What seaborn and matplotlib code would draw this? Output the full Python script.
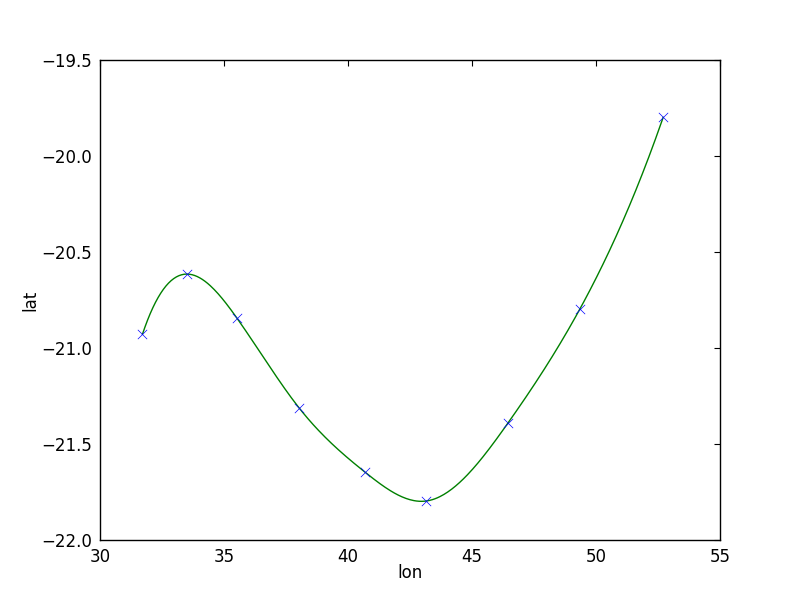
import numpy as np
import pandas as pd
import matplotlib
matplotlib.use("Agg")
import matplotlib.pyplot as plt
import seaborn as sns

# track points
lon = [31.71, 33.52, 35.52, 38.04, 40.69, 43.15, 46.46, 49.35, 52.71]
lat = [-20.929, -20.615, -20.844, -21.314, -21.647, -21.797, -21.389, -20.797, -19.798]


def cubic_spline(x, y, xs):
    # not-a-knot cubic spline through the points (like interp1d kind='cubic')
    x = np.asarray(x, float)
    y = np.asarray(y, float)
    n = len(x)
    h = np.diff(x)
    A = np.zeros((n, n))
    b = np.zeros(n)
    A[0, 0], A[0, 1], A[0, 2] = h[1], -(h[0] + h[1]), h[0]
    A[-1, -3], A[-1, -2], A[-1, -1] = h[-1], -(h[-2] + h[-1]), h[-2]
    for i in range(1, n - 1):
        A[i, i - 1] = h[i - 1]
        A[i, i] = 2 * (h[i - 1] + h[i])
        A[i, i + 1] = h[i]
        b[i] = 6 * ((y[i + 1] - y[i]) / h[i] - (y[i] - y[i - 1]) / h[i - 1])
    M = np.linalg.solve(A, b)
    idx = np.clip(np.searchsorted(x, xs) - 1, 0, n - 2)
    x0, x1 = x[idx], x[idx + 1]
    hh = x1 - x0
    t0, t1 = x1 - xs, xs - x0
    return (M[idx] * t0 ** 3 / (6 * hh) + M[idx + 1] * t1 ** 3 / (6 * hh)
            + (y[idx] / hh - M[idx] * hh / 6) * t0
            + (y[idx + 1] / hh - M[idx + 1] * hh / 6) * t1)


pts = pd.DataFrame({"lon": lon, "lat": lat})
xs = np.linspace(min(lon), max(lon), 400)
curve = pd.DataFrame({"lon": xs, "lat": cubic_spline(lon, lat, xs)})

sns.set_style("white")
plt.rcParams["font.family"] = ["DejaVu Sans"]
plt.rcParams["font.size"] = 12
plt.rcParams["xtick.direction"] = "in"
plt.rcParams["ytick.direction"] = "in"
plt.rcParams["xtick.top"] = True
plt.rcParams["ytick.right"] = True
plt.rcParams["xtick.major.size"] = 4
plt.rcParams["ytick.major.size"] = 4
plt.rcParams["xtick.major.pad"] = 6
plt.rcParams["ytick.major.pad"] = 6

fig, ax = plt.subplots(figsize=(8, 6), dpi=100)
fig.subplots_adjust(left=0.125, right=0.9, bottom=0.1, top=0.9)

sns.lineplot(data=curve, x="lon", y="lat", color="green", linewidth=1.0,
             sort=False, estimator=None, ax=ax)
sns.scatterplot(data=pts, x="lon", y="lat", marker="x", color="blue",
                s=45, linewidth=0.5, ax=ax, zorder=3)

ax.set_xlim(30, 55)
ax.set_ylim(-22.0, -19.5)
ax.set_xticks([30, 35, 40, 45, 50, 55])
ax.set_yticks([-22.0, -21.5, -21.0, -20.5, -20.0, -19.5])
ax.set_yticklabels(["\u221222.0", "\u221221.5", "\u221221.0", "\u221220.5", "\u221220.0", "\u221219.5"])
ax.set_xlabel("lon", fontsize=12, color="black", labelpad=-2)
ax.set_ylabel("lat", fontsize=12, color="black", labelpad=1)
for sp in ax.spines.values():
    sp.set_color("black")
    sp.set_linewidth(1.0)
ax.tick_params(colors="black", labelsize=12, width=0.8)

fig.savefig("out.png", dpi=100, facecolor="white")
